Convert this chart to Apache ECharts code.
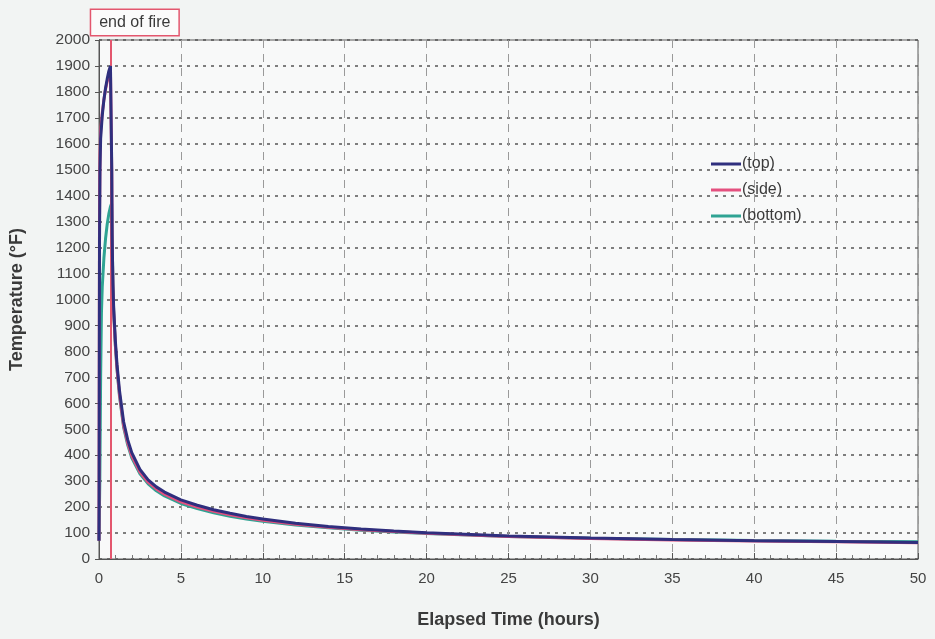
<!DOCTYPE html>
<html>
<head>
<meta charset="utf-8">
<script src="https://cdn.jsdelivr.net/npm/echarts@6/dist/echarts.min.js"></script>
<style>html,body{margin:0;padding:0;background:#f2f4f3;}#c{width:935px;height:639px;}</style>
</head>
<body>
<div id="c"></div>
<script>
const xTicks = { min: 0, max: 50, interval: 5 };
const yTicks = { min: 0, max: 2000, interval: 100 };
const endOfFire = 0.72;
const seriesNames = ['(top)', '(side)', '(bottom)'];

const topData = [[0,70],[0.03,1200],[0.06,1500],[0.1,1620],[0.2,1710],[0.3,1770],[0.4,1815],[0.5,1850],[0.6,1880],[0.7,1900],[0.75,1895],[0.78,1500],[0.8,1250],[0.85,1060],[0.9,960],[1.0,840],[1.1,750],[1.25,650],[1.5,530],[1.75,460],[2,410],[2.5,345],[3,305],[3.5,278],[4,258],[5,228],[6,207],[7,190],[8,176],[9,164],[10,154],[12,138],[14,125],[16,116],[18,108],[20,101],[25,89],[30,81],[35,75],[40,70],[45,67],[50,64]];
const sideData = [[0,70],[0.03,1300],[0.06,1560],[0.1,1650],[0.2,1720],[0.3,1770],[0.4,1810],[0.5,1840],[0.6,1865],[0.7,1880],[0.75,1875],[0.78,1480],[0.8,1230],[0.85,1040],[0.9,945],[1.0,825],[1.1,735],[1.25,635],[1.5,515],[1.75,448],[2,398],[2.5,335],[3,296],[3.5,270],[4,250],[5,220],[6,200],[7,184],[8,170],[9,159],[10,149],[12,134],[14,122],[16,113],[18,106],[20,99],[25,87],[30,79],[35,73],[40,69],[45,66],[50,63]];
const bottomData = [[0,70],[0.05,300],[0.1,700],[0.15,950],[0.2,1050],[0.3,1160],[0.4,1235],[0.5,1290],[0.6,1330],[0.7,1358],[0.77,1370],[0.8,1250],[0.85,1050],[0.9,950],[1.0,820],[1.1,730],[1.25,628],[1.5,508],[1.75,440],[2,390],[2.5,328],[3,290],[3.5,263],[4,243],[5,214],[6,194],[7,178],[8,165],[9,154],[10,145],[12,131],[14,120],[16,111],[18,104],[20,98],[25,87],[30,80],[35,75],[40,71],[45,68],[50,66]];

const colors = { top: '#2f2f7e', side: '#e4507f', bottom: '#2fa393', fire: '#e3566e' };
const font = 'Liberation Sans, Arial, sans-serif';

const chart = echarts.init(document.getElementById('c'));
chart.setOption({
  backgroundColor: '#f2f4f3',
  animation: false,
  textStyle: { fontFamily: font },
  grid: { left: 98, right: 17, top: 40, bottom: 80, show: true, backgroundColor: '#f8f9f9', borderColor: '#5a5a5a', borderWidth: 1 },
  legend: {
    data: seriesNames,
    orient: 'vertical',
    left: 706, top: 151,
    icon: 'rect', itemWidth: 30, itemHeight: 3, itemGap: 10,
    textStyle: { fontSize: 16, color: '#3a3a3a', fontFamily: font, padding: [0,0,0,-4] }
  },
  xAxis: {
    type: 'value', min: xTicks.min, max: xTicks.max, interval: xTicks.interval,
    name: 'Elapsed Time (hours)', nameLocation: 'middle', nameGap: 52,
    nameTextStyle: { fontSize: 18, fontWeight: 'bold', color: '#3a3a3a', fontFamily: font },
    axisLine: { show: true, lineStyle: { color: '#555', width: 1 } },
    axisTick: { show: true, inside: true, length: 6, lineStyle: { color: '#555' } },
    minorTick: { show: true, splitNumber: 5, length: 4, lineStyle: { color: '#777' } },
    axisLabel: { fontSize: 15, color: '#444', margin: 12, fontFamily: font },
    splitLine: { show: true, lineStyle: { color: '#9a9a9a', type: [8, 6], width: 1 } }
  },
  yAxis: {
    type: 'value', min: yTicks.min, max: yTicks.max, interval: yTicks.interval,
    name: 'Temperature (°F)', nameLocation: 'middle', nameGap: 73,
    nameTextStyle: { fontSize: 18, fontWeight: 'bold', color: '#3a3a3a', fontFamily: font },
    axisLine: { show: true, lineStyle: { color: '#555', width: 1 } },
    axisTick: { show: true, length: 4, lineStyle: { color: '#555' } },
    axisLabel: { fontSize: 15.5, color: '#444', margin: 9, fontFamily: font, formatter: v => String(v) },
    splitLine: { show: true, lineStyle: { color: '#555', type: [3, 5], width: 1.5 } }
  },
  series: [
    { name: '(bottom)', type: 'line', data: bottomData, symbol: 'none', z: 3,
      lineStyle: { color: colors.bottom, width: 3 }, itemStyle: { color: colors.bottom } },
    { name: '(side)', type: 'line', data: sideData, symbol: 'none', z: 4,
      lineStyle: { color: colors.side, width: 3 }, itemStyle: { color: colors.side } },
    { name: '(top)', type: 'line', data: topData, symbol: 'none', z: 5,
      lineStyle: { color: colors.top, width: 3 }, itemStyle: { color: colors.top },
      markLine: {
        silent: true, symbol: 'none',
        lineStyle: { color: colors.fire, width: 2, type: 'solid' },
        label: { show: true, position: 'end', formatter: 'end of fire', fontSize: 16, color: '#3a3a3a',
          backgroundColor: '#fbfbfb', borderColor: colors.fire, borderWidth: 1.5, padding: [5, 8, 4, 8],
          offset: [24, 0], distance: 5, fontFamily: font },
        data: [{ xAxis: endOfFire }]
      }
    }
  ]
});
</script>
</body>
</html>
